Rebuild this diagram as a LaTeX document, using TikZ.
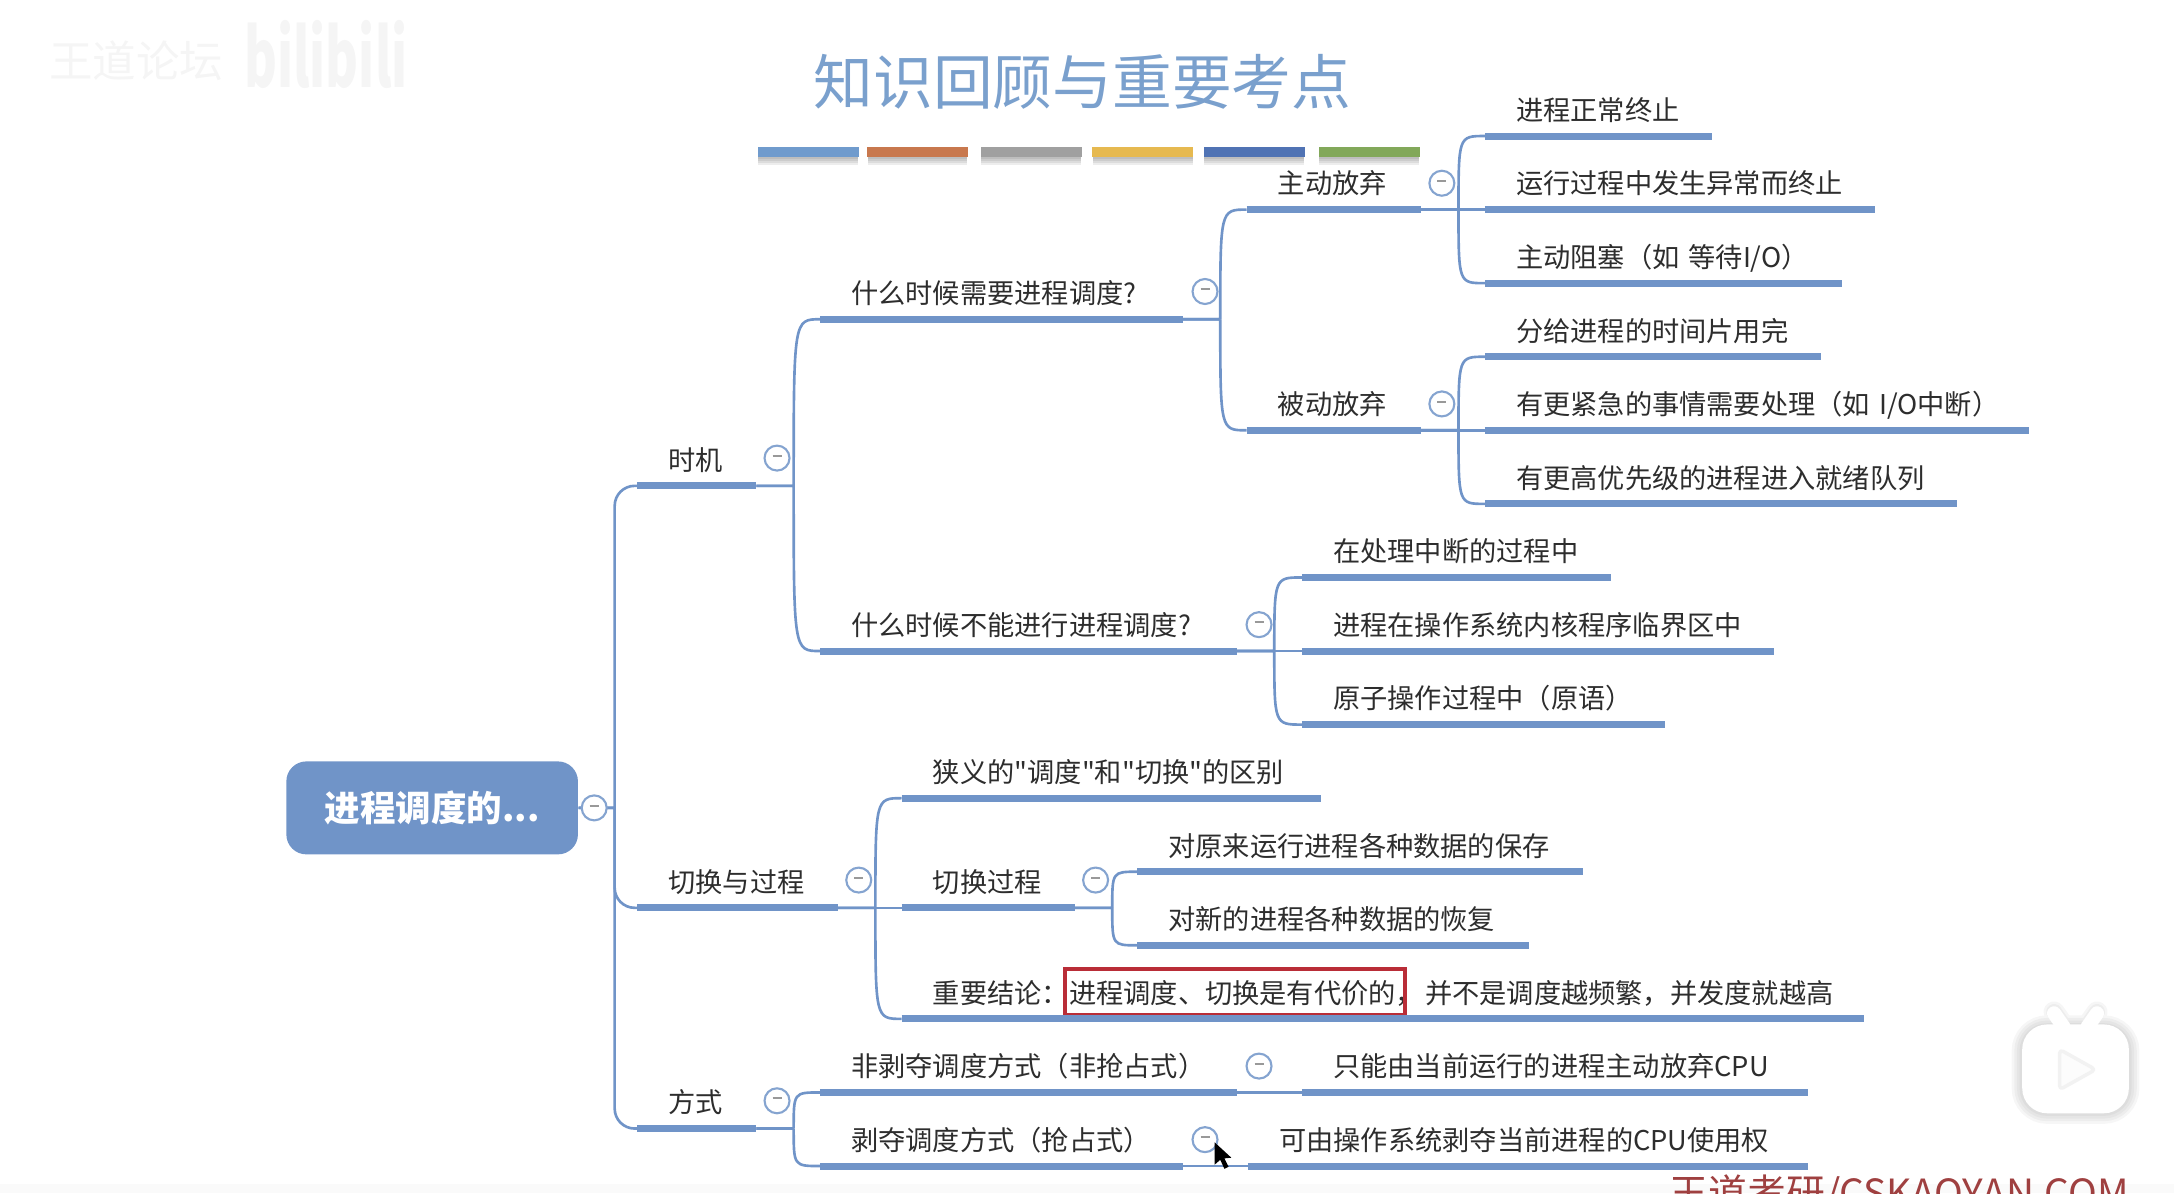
\documentclass[tikz,border=0pt]{standalone}
\usepackage{fontspec}
\setmainfont{Noto Sans CJK SC}[Ligatures=TeXOff]
\usetikzlibrary{positioning}
\definecolor{mapblue}{RGB}{112,148,200}
\definecolor{titleblue}{RGB}{122,160,205}
\definecolor{mapink}{RGB}{45,45,45}
\definecolor{markred}{RGB}{185,45,55}
\tikzset{
    topic/.style={anchor=south west,align=left,text width=#1*0.01385cm,inner xsep=0pt,inner ysep=0.1cm,
        text height=0.22cm,text depth=0.05cm,text=mapink,font=\fontsize{7.75pt}{9pt}\selectfont,
        execute at begin node=\hspace*{0.306cm}},
    bar/.style={draw=mapblue,line width=2pt},
    link/.style={draw=mapblue,line width=0.75pt},
    fold/.style={circle,draw=mapblue!85,fill=white,line width=0.6pt,inner sep=0pt,minimum size=0.25cm},
    swatch/.style={minimum width=1.01cm,minimum height=0.1cm,inner sep=0pt}
}
\begin{document}
\begin{tikzpicture}[x=0.01385cm,y=-0.01389cm]
    \useasboundingbox (-1,0) rectangle (1568.6,859.6);
    \fill[black!2] (-1,853) rectangle (1568.6,859.6);
    %% faint logos
    \node[text=black!4,font=\fontsize{12.4pt}{14pt}\selectfont,anchor=west,inner sep=0pt] (logoa) at (34,44) {王道论坛};
    \node[text=black!4,font=\fontsize{23pt}{24pt}\bfseries\selectfont,anchor=west,inner sep=0pt,xscale=0.62] (logob) at (175,39) {bilibili};
    %% title
    \node[text=titleblue,font=\fontsize{17pt}{20pt}\selectfont] (title) at (780.5,59) {知识回顾与重要考点};
    \foreach \x/\c [count=\i] in {582.5/{112,155,205},661.5/{200,120,78},743.5/{160,160,160},824/{230,185,80},904.5/{80,115,180},987.5/{130,168,90}} {
        \definecolor{swatchcol}{RGB}{\c}
        \foreach \d in {1.5,3,4.5,6}
            \fill[black,opacity=0.07] (\x-36,113) rectangle (\x+36,113+\d);
        \node[swatch,fill=swatchcol] (sw\i) at (\x,109.5) {};
    }
    %% root
    \node[fill=mapblue,rounded corners=0.2cm,minimum width=2.917cm,minimum height=0.93cm,text=white,
        font=\fontsize{10.1pt}{12pt}\bfseries\selectfont] (root) at (311,582) {进程调度的...};
    %% first level
    \node[topic=85] (time) at (459,350) {时机};
    \node[topic=144] (swap) at (459,654) {切换与过程};
    \node[topic=85] (mode) at (459,813) {方式};
    %% when
    \node[topic=261] (need) at (591,230) {什么时候需要进程调度?};
    \node[topic=300] (noneed) at (591,469) {什么时候不能进行进程调度?};
    \node[topic=125] (give) at (899,151) {主动放弃};
    \node[topic=125] (lose) at (899,310) {被动放弃};
    \node[topic=163] (givea) at (1071,98) {进程正常终止};
    \node[topic=281] (giveb) at (1071,151) {运行过程中发生异常而终止};
    \node[topic=257] (givec) at (1071,204) {主动阻塞（如 等待I/O）};
    \node[topic=242] (losea) at (1071,257) {分给进程的时间片用完};
    \node[topic=392] (loseb) at (1071,310) {有更紧急的事情需要处理（如 I/O中断）};
    \node[topic=340] (losec) at (1071,363) {有更高优先级的进程进入就绪队列};
    \node[topic=222] (nonea) at (939,416) {在处理中断的过程中};
    \node[topic=340] (noneb) at (939,469) {进程在操作系统内核程序临界区中};
    \node[topic=261] (nonec) at (939,522) {原子操作过程中（原语）};
    %% switching
    \node[topic=302] (diff) at (650,575) {狭义的"调度"和"切换"的区别};
    \node[topic=124] (steps) at (650,654) {切换过程};
    \node[topic=321] (save) at (820,628) {对原来运行进程各种数据的保存};
    \node[topic=282] (load) at (820,681) {对新的进程各种数据的恢复};
    \node[topic=694] (sum) at (650,734) {重要结论：进程调度、切换是有代价的，\hspace{0.02cm}并不是调度越频繁，并发度就越高};
    \node[draw=markred,line width=1.2pt,minimum width=3.4cm,minimum height=0.46cm,inner sep=0pt] (mark) at (890.5,714.5) {};
    %% modes
    \node[topic=300] (nonpre) at (591,787) {非剥夺调度方式（非抢占式）};
    \node[topic=261] (pre) at (591,840) {剥夺调度方式（抢占式）};
    \node[topic=364] (nonprea) at (939,787) {只能由当前运行的进程主动放弃CPU};
    \node[topic=403] (prea) at (900,840) {可由操作系统剥夺当前进程的CPU使用权};
    %% underlines
    \foreach \n in {time,swap,mode,need,noneed,give,lose,givea,giveb,givec,losea,loseb,losec,nonea,noneb,nonec,diff,steps,save,load,sum,nonpre,pre,nonprea,prea}
        \draw[bar] (\n.south west) -- (\n.south east);
    %% connectors
    \foreach \ch in {time,swap,mode}
        \draw[link] (root.east) -- ++(26,0) coordinate (j) (j) [rounded corners=0.2cm] |- (\ch.south west);
    \foreach \pa/\ch in {time/need,time/noneed,need/give,need/lose,give/givea,give/giveb,give/givec,lose/losea,lose/loseb,lose/losec,
        noneed/nonea,noneed/noneb,noneed/nonec,swap/diff,swap/steps,swap/sum,steps/save,steps/load,mode/nonpre,mode/pre}
        \draw[link] (\pa.south east) -- ++(27,0) coordinate (j) (j) .. controls (j |- \ch.south west) .. (\ch.south west);
    \draw[link] (nonpre.south east) -- (nonprea.south west);
    \draw[link] (pre.south east) -- (prea.south west);
    %% fold marks
    \foreach \x/\y [count=\i] in {428/582,560/330,619/634,560/793,869/210,908/450,1040/132,1040/291,790/634,908/768,869/821}
        \node[fold] (fold\i) at (\x,\y) {\textcolor{black!40}{\rule[0.25ex]{0.09cm}{0.02cm}}};
    %% cursor
    \fill[black] (876,823) -- (876,839) -- (880,835.5) -- (883,842) -- (886,840.5) -- (883,834.5) -- (888,834) -- cycle;
    %% player icon
    \foreach \w in {1.5,3,4.5,6}
        \draw[black,opacity=0.035,line width=\w pt,line cap=round,rounded corners=0.25cm]
            (1459,739) rectangle (1536,802) (1482,729) -- (1489,739) (1513,729) -- (1506,739);
    \fill[white,rounded corners=0.25cm] (1459,738) rectangle (1536,802);
    \draw[white,line width=4pt,line cap=round] (1482,730) -- (1489,740) (1513,730) -- (1506,740);
    \draw[black!5,fill=black!1,line width=1pt,line join=round,rounded corners=0.04cm] (1486,756) -- (1512,770.5) -- (1486,785) -- cycle;
    %% site mark
    \node[text=red!50!black!75,font=\fontsize{11.05pt}{13pt}\selectfont,anchor=north west,inner sep=0pt] (site) at (1204,846) {王道考研/CSKAOYAN.COM};
\end{tikzpicture}
\end{document}
